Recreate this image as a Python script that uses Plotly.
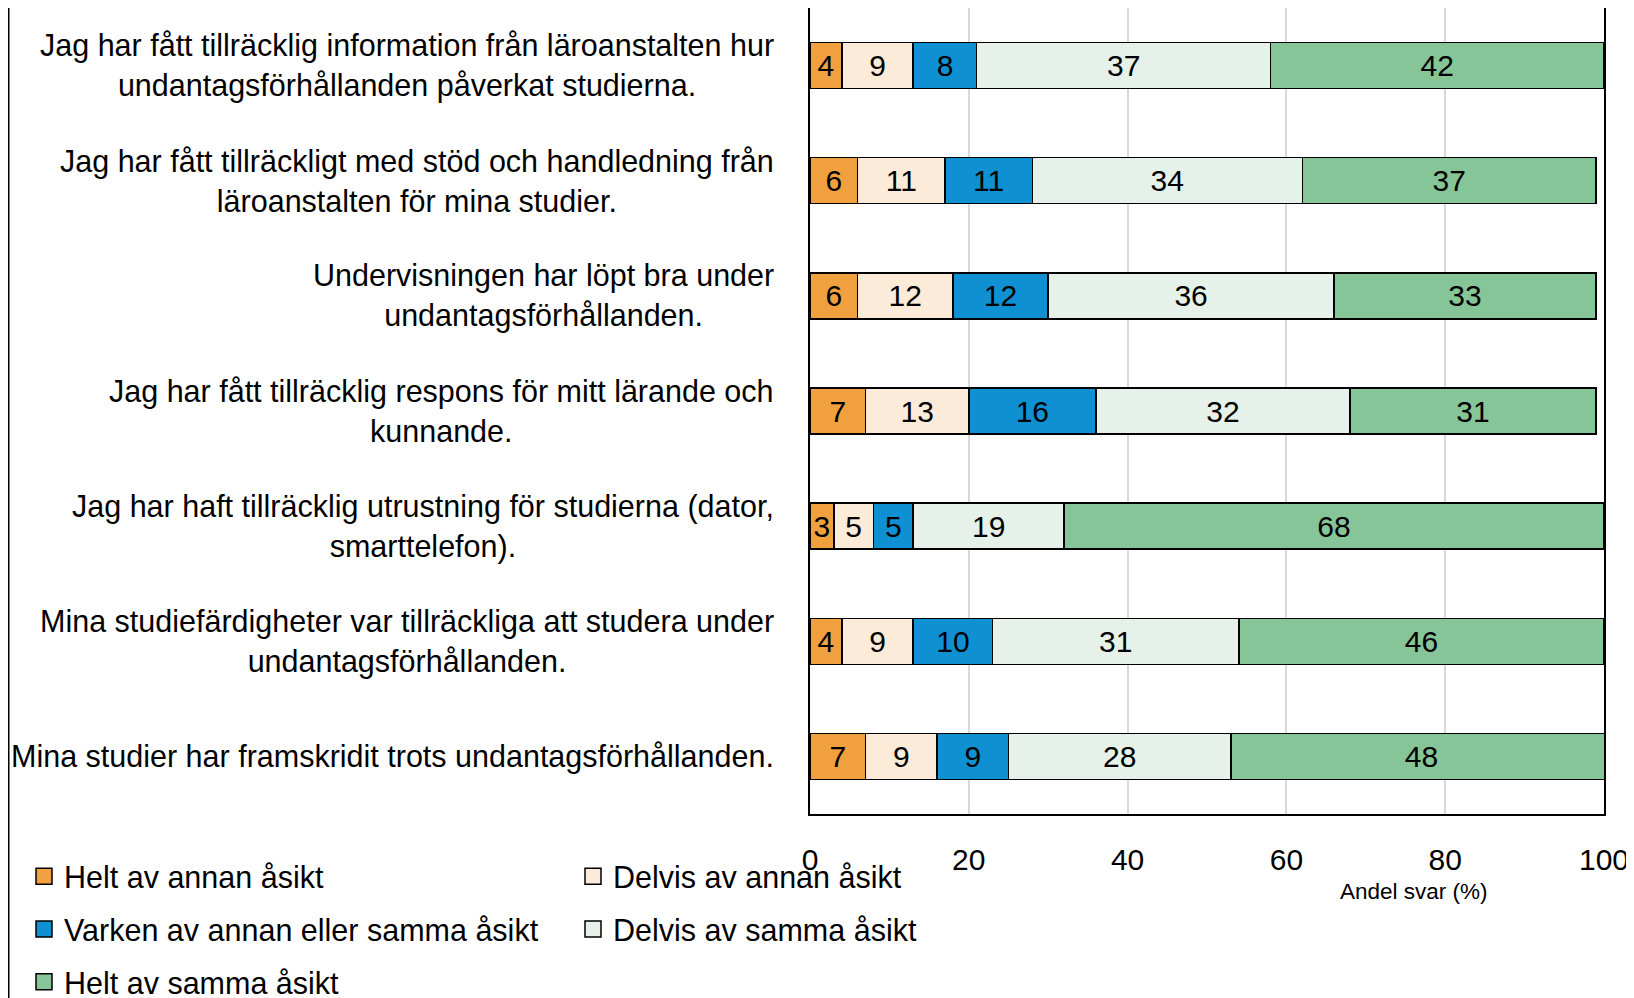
import plotly.graph_objects as go

statements = [
    "Jag har fått tillräcklig information från läroanstalten hur<br>undantagsförhållanden påverkat studierna.",
    "Jag har fått tillräckligt med stöd och handledning från<br>läroanstalten för mina studier.",
    "Undervisningen har löpt bra under<br>undantagsförhållanden.",
    "Jag har fått tillräcklig respons för mitt lärande och<br>kunnande.",
    "Jag har haft tillräcklig utrustning för studierna (dator,<br>smarttelefon).",
    "Mina studiefärdigheter var tillräckliga att studera under<br>undantagsförhållanden.",
    "Mina studier har framskridit trots undantagsförhållanden.",
]
cat_ids = ["s1", "s2", "s3", "s4", "s5", "s6", "s7"]

helt_annan = [4, 6, 6, 7, 3, 4, 7]
delvis_annan = [9, 11, 12, 13, 5, 9, 9]
varken = [8, 11, 12, 16, 5, 10, 9]
delvis_samma = [37, 34, 36, 32, 19, 31, 28]
helt_samma = [42, 37, 33, 31, 68, 46, 48]

series_names = [
    "Helt av annan åsikt",
    "Delvis av annan åsikt",
    "Varken av annan eller samma åsikt",
    "Delvis av samma åsikt",
    "Helt av samma åsikt",
]
series_values = [helt_annan, delvis_annan, varken, delvis_samma, helt_samma]
colors = ["#F0A03E", "#FDEBD9", "#0E90D2", "#E6F1E9", "#86C598"]
legend_ids = ["legend", "legend2", "legend", "legend2", "legend"]

x_ticks = [0, 20, 40, 60, 80, 100]

FONT = "Liberation Sans, Arial, sans-serif"
LABEL_SIZE = 30.5
NUM_SIZE = 30

# page body has an 8px margin, so the figure is drawn 8px smaller and offset
W, H = 1626, 990
ML, MR, MT, MB = 802, 30, 0, 184
PW = W - ML - MR
PH = H - MT - MB


def py(pix):
    """pixel y inside the figure -> paper y"""
    return (MT + PH - pix) / PH


def px(pix):
    return (pix - ML) / PW


fig = go.Figure()
for i, (name, vals, col) in enumerate(zip(series_names, series_values, colors)):
    fig.add_trace(go.Bar(
        y=cat_ids, x=vals, name=name, orientation="h",
        marker=dict(color=col, line=dict(color="black", width=1.5)),
        text=vals, texttemplate="%{x}", textposition="inside",
        insidetextanchor="middle", textangle=0, constraintext="none",
        textfont=dict(family=FONT, size=NUM_SIZE, color="black"),
        legendgroup=name, showlegend=False,
        hoverinfo="skip",
    ))
# legend entries with larger square swatches
for i, (name, col) in enumerate(zip(series_names, colors)):
    fig.add_trace(go.Scatter(
        x=[None], y=[None], mode="markers", name=name,
        marker=dict(symbol="square", size=16, color=col,
                    line=dict(color="black", width=1.5)),
        legend=legend_ids[i], legendgroup=name, showlegend=True,
        hoverinfo="skip",
    ))

annotations = []
for cid, label in zip(cat_ids, statements):
    annotations.append(dict(
        x=px(768), xref="paper", y=cid, yref="y",
        text=label, showarrow=False, xanchor="right", yanchor="middle",
        align="center", font=dict(family=FONT, size=LABEL_SIZE, color="black"),
    ))
annotations.append(dict(
    x=76.1, xref="x", y=py(884), yref="paper",
    text="Andel svar (%)", showarrow=False, xanchor="center", yanchor="middle",
    font=dict(family=FONT, size=22.5, color="black"),
))

legend_common = dict(orientation="v", yanchor="top", y=py(842),
                     traceorder="grouped", tracegroupgap=10,
                     font=dict(family=FONT, size=LABEL_SIZE, color="black"),
                     bgcolor="rgba(0,0,0,0)", itemwidth=30, xanchor="left")

fig.update_layout(
    width=W, height=H,
    margin=dict(l=ML, r=MR, t=MT, b=MB, autoexpand=False),
    barmode="stack", bargap=0.6,
    plot_bgcolor="white", paper_bgcolor="white",
    font=dict(family=FONT, size=LABEL_SIZE, color="black"),
    annotations=annotations,
    shapes=[dict(type="line", xref="paper", yref="paper",
                 x0=px(0.75), x1=px(0.75), y0=-1, y1=2,
                 line=dict(color="black", width=1.5))],
    legend=dict(x=px(16), **legend_common),
    legend2=dict(x=px(565), **legend_common),
    showlegend=True,
)
fig.update_xaxes(range=[0, 100], tickvals=x_ticks, ticktext=[str(t) for t in x_ticks],
                 showgrid=True, gridcolor="#D9D9D9", gridwidth=1.5,
                 showline=True, linecolor="black", linewidth=1.5, mirror=True,
                 zeroline=False, ticks="", ticklabelstandoff=18,
                 tickfont=dict(family=FONT, size=NUM_SIZE, color="black"))
fig.update_yaxes(categoryorder="array", categoryarray=cat_ids, autorange="reversed",
                 showticklabels=False, showgrid=False,
                 showline=True, linecolor="black", linewidth=1.5, mirror=True,
                 ticks="")

fig.write_html("out.html")
